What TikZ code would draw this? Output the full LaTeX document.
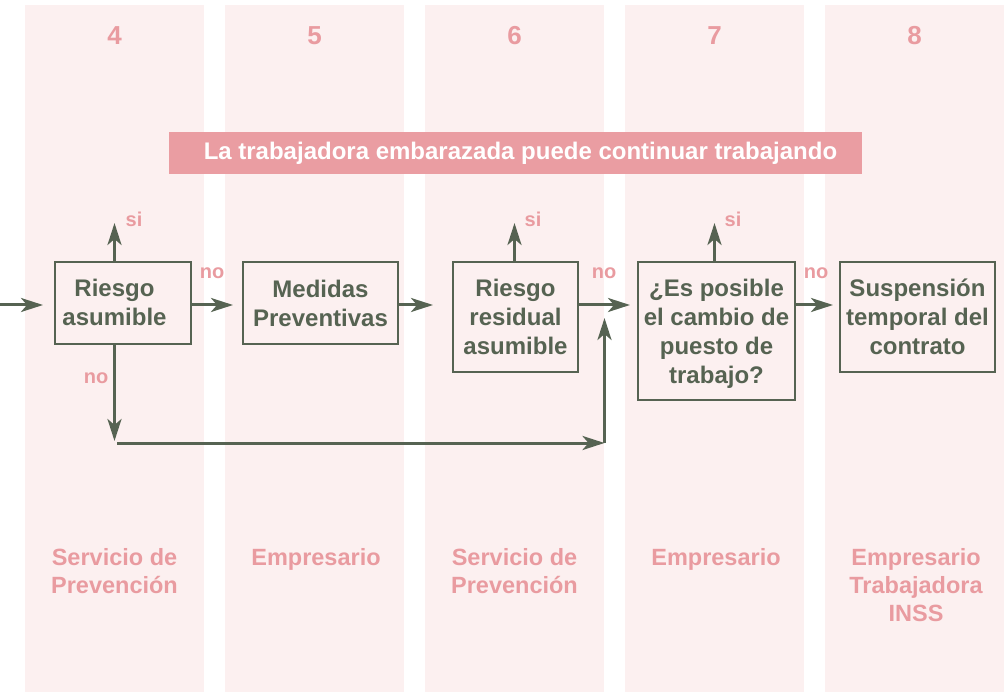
\documentclass[tikz,border=0pt]{standalone}
\usepackage{fontspec}
\setmainfont{Liberation Sans}
\usepackage{tikz}
\usetikzlibrary{positioning,arrows.meta}
\definecolor{flowgreen}{HTML}{566352}
\definecolor{rosetext}{HTML}{E99BA0}
\definecolor{roseband}{HTML}{FCF0F0}
\definecolor{rosebanner}{HTML}{EA9DA2}
\tikzset{
	phase column/.style={
		fill=roseband,
		draw=none
	},
	phase number/.style={
		text=rosetext,
		inner sep=0pt,
		font=\fontsize{26}{30}\selectfont\bfseries
	},
	phase actor/.style={
		text=rosetext,
		align=center,
		inner sep=0pt,
		text depth=0pt,
		font=\fontsize{23.5}{28}\selectfont\bfseries
	},
	box text/.style={
		text=flowgreen,
		align=center,
		inner sep=0pt,
		text depth=0pt,
		font=\fontsize{24}{29}\selectfont\bfseries
	},
	process box/.style 2 args={% width, height
		box text,
		rectangle,
		draw=flowgreen,
		line width=2pt,
		anchor=north west,
		minimum width=#1,
		minimum height=#2
	},
	flow arrow/.style={
		draw=flowgreen,
		line width=3pt,
		-{Stealth[length=22pt,width=14pt,inset=6pt]}
	},
	answer/.style={
		text=rosetext,
		inner sep=0pt,
		font=\fontsize{20}{24}\selectfont\bfseries
	},
	banner/.style={
		rectangle,
		fill=rosebanner,
		text=white,
		inner sep=0pt,
		minimum width=693,
		minimum height=42,
		font=\fontsize{24}{28}\selectfont\bfseries
	}
}

\begin{document}
\begin{tikzpicture}[x=1pt,y=-1pt]
	\useasboundingbox (0,0) rectangle (1004,692);
	% phase columns
	\foreach \num [count=\i from 0] in {4,...,8} {
		\fill[phase column] (25+200*\i,5) rectangle ++(179,687);
		\node[phase number] (fase\num) at (114.5+200*\i,36) {\num};
	}
	\node[phase actor] (actor4) at (114.5,571) {Servicio de\\Prevención};
	\node[phase actor] (actor5) at (316,557) {Empresario};
	\node[phase actor] (actor6) at (514.5,571) {Servicio de\\Prevención};
	\node[phase actor] (actor7) at (716,557) {Empresario};
	\node[phase actor] (actor8) at (916,585) {Empresario\\Trabajadora\\INSS};
	\node[banner] (aviso) at (515.5,153) {\hspace*{10pt}La trabajadora embarazada puede continuar trabajando};
	% process boxes
	\node[process box={136}{82}] (riesgo) at (54,261) {};
	\node[box text] (riesgo text) at (114.5,302.5) {Riesgo\\asumible};
	\node[process box={155}{82}] (medidas) at (242,261) {Medidas\\Preventivas};
	\node[process box={125}{110}] (residual) at (452,261) {Riesgo\\residual\\asumible};
	\node[process box={157}{138}] (cambio) at (637,261) {¿Es posible\\el cambio de\\puesto de\\trabajo?};
	\node[process box={155}{110}] (suspension) at (839,261) {Suspensión\\temporal del\\contrato};
	% connectors
	\coordinate (entrada) at (0,305);
	\coordinate (si4) at (114.5,223);
	\coordinate (si6) at (514.5,223);
	\coordinate (si7) at (714.5,223);
	\coordinate (no4) at (114.5,441);
	\coordinate (desvio) at (117,443);
	\coordinate (codo) at (604.5,443);
	\coordinate (subida) at (604.5,318);
	\draw[flow arrow,shorten >=11pt] (entrada) -- (riesgo.west |- entrada);
	\draw[flow arrow,shorten >=9pt] (riesgo.east |- entrada) -- (medidas.west |- entrada);
	\draw[flow arrow,shorten >=19pt] (medidas.east |- entrada) -- (residual.west |- entrada);
	\draw[flow arrow,shorten >=7pt] (residual.east |- entrada) -- (cambio.west |- entrada);
	\draw[flow arrow,shorten >=6pt] (cambio.east |- entrada) -- (suspension.west |- entrada);
	\draw[flow arrow] (riesgo.north -| si4) -- (si4);
	\draw[flow arrow] (residual.north -| si6) -- (si6);
	\draw[flow arrow] (cambio.north -| si7) -- (si7);
	\draw[flow arrow] (riesgo.south -| no4) -- (no4);
	\draw[flow arrow] (desvio) -- (codo);
	\draw[flow arrow] (codo) -- (subida);
	% answers
	\node[answer] (si a) at (134,219) {si};
	\node[answer] (si b) at (533,219) {si};
	\node[answer] (si c) at (733,219) {si};
	\node[answer] (no a) at (212,273) {no};
	\node[answer] (no b) at (96,378) {no};
	\node[answer] (no c) at (604,273) {no};
	\node[answer] (no d) at (816,273) {no};
\end{tikzpicture}
\end{document}
